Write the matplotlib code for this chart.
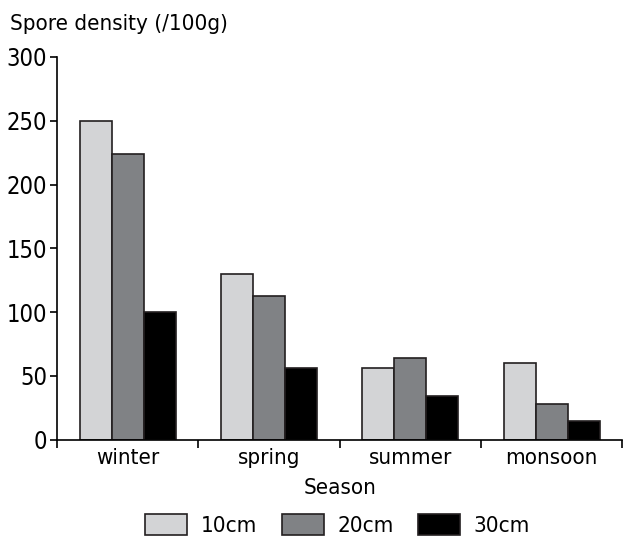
import numpy as np
import matplotlib
matplotlib.use("Agg")
import matplotlib.pyplot as plt

# Données
seasons = ["winter", "spring", "summer", "monsoon"]
depths = ["10cm", "20cm", "30cm"]
d10 = [250, 130, 56, 60]
d20 = [224, 113, 64, 28]
d30 = [100, 56, 34, 15]
colors = ["#d3d4d6", "#808285", "#000000"]

plt.rcParams['font.family'] = ['DejaVu Sans']
plt.rcParams['font.stretch'] = 'condensed'

fig = plt.figure(figsize=(6.24, 5.37), dpi=100)
ax = fig.add_axes([0.0913, 0.181, 0.906, 0.713])

x = np.arange(len(seasons))
w = 0.226
for i, (vals, lab) in enumerate(zip([d10, d20, d30], depths)):
    ax.bar(x + (i - 1) * w, vals, width=w, color=colors[i],
           edgecolor="#231f20", linewidth=1.2, label=lab)

ax.set_xlim(-0.5, len(seasons) - 0.5)
ax.set_ylim(0, 300)
ax.set_yticks([0, 50, 100, 150, 200, 250, 300])

# ticks aux limites des catégories
ax.set_xticks(np.arange(len(seasons) + 1) - 0.5)
ax.set_xticklabels([])
ax.set_xticks(x, minor=True)
ax.set_xticklabels(seasons, minor=True)
ax.tick_params(axis="x", which="minor", length=0, labelsize=16, pad=6)
ax.tick_params(axis="x", which="major", length=6, width=1.2, direction="out")
ax.tick_params(axis="y", length=5, width=1.2, direction="out", labelsize=17, pad=2)

for s in ["top", "right"]:
    ax.spines[s].set_visible(False)
for s in ["left", "bottom"]:
    ax.spines[s].set_linewidth(1.2)

fig.text(0.016, 0.955, "Spore density (/100g)", fontsize=16, va="center", ha="left")
ax.set_xlabel("Season", fontsize=16, labelpad=7)

fig.legend(loc="center", bbox_to_anchor=(0.541, 0.022), ncol=3, frameon=False,
           fontsize=16, handlelength=1.9, handleheight=1.08, columnspacing=1.1,
           handletextpad=0.6, borderaxespad=0)

plt.savefig("out.png", dpi=100)
